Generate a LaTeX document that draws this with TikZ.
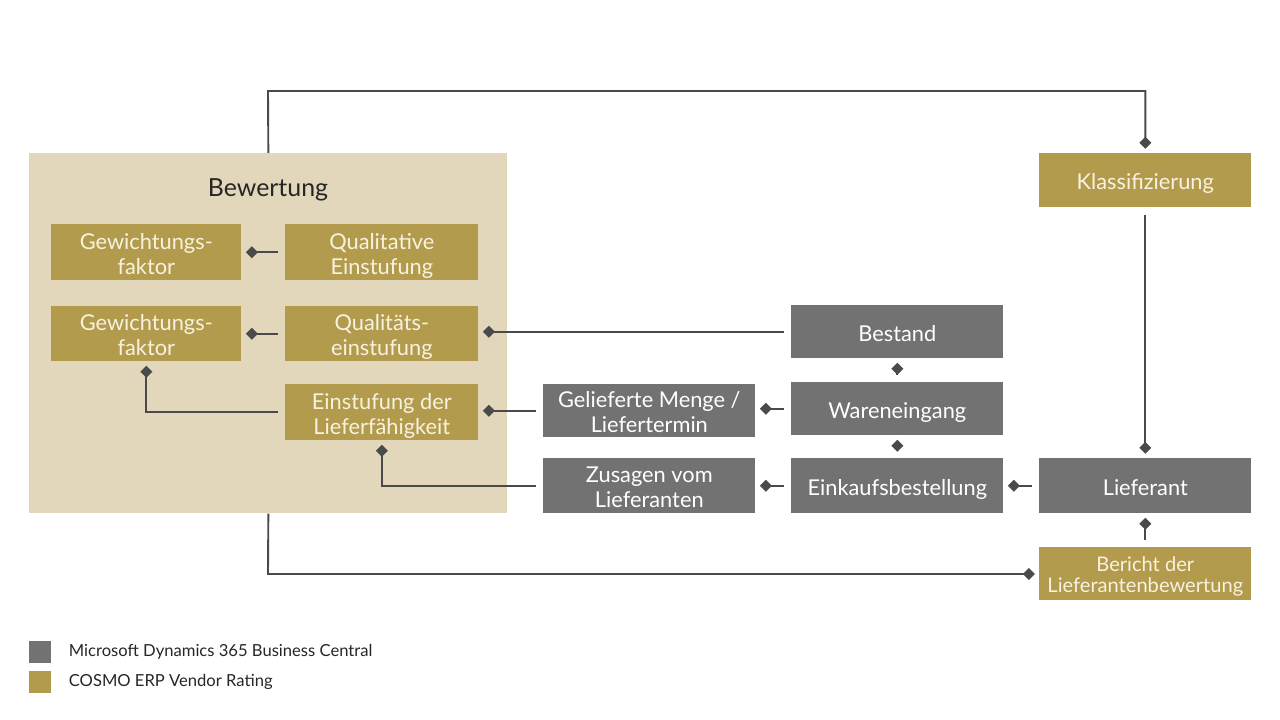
\documentclass[tikz,border=0pt]{standalone}
\usepackage{fontspec}
\setmainfont{Lato}
\usetikzlibrary{arrows.meta,positioning}
\definecolor{bcgold}{HTML}{B39B4E}
\definecolor{bcgray}{HTML}{727272}
\definecolor{bcbeige}{HTML}{E2D7BA}
\definecolor{bcline}{HTML}{4A4A4A}
\definecolor{bctext}{HTML}{F8F2DE}
\definecolor{bcdark}{HTML}{262626}
\tikzset{
  goldbox/.style={fill=bcgold,text=bctext,align=center,inner sep=0pt,anchor=north west,
    minimum height=1.4cm,font=\fontsize{15.5}{17.7}\selectfont},
  graybox/.style={fill=bcgray,text=white,align=center,inner sep=0pt,anchor=north west,
    minimum width=5.3cm,minimum height=1.35cm,font=\fontsize{15.5}{17.7}\selectfont},
  oneline/.style={text height=16.5pt,text depth=3pt},
  twoline/.style={text height=34pt,text depth=3pt},
  link/.style={draw=bcline,line width=1.35pt,-{Diamond[length=8.5pt,width=8.5pt]},
    shorten >=3pt,shorten <=5pt},
  legbox/.style={minimum size=0.55cm,inner sep=0pt,anchor=north west},
  legtext/.style={text=bcdark,font=\fontsize{11.8}{14}\selectfont,anchor=west,inner sep=0pt},
}

\begin{document}
\begin{tikzpicture}[x=0.025cm,y=-0.025cm]
\useasboundingbox (0,0) rectangle (1280,720);

% Bewertung
\node[fill=bcbeige,minimum width=11.95cm,minimum height=9cm,inner sep=0pt,anchor=north west] (bew) at (29,153) {};
\node[text=bcdark,font=\fontsize{17.7}{20}\selectfont] (bewtitle) at (268,190) {Bewertung};
\node[goldbox,twoline,minimum width=4.75cm] (gew1) at (51,224) {Gewichtungs-\\faktor};
\node[goldbox,twoline,minimum width=4.825cm] (qual) at (285,224) {Qualitative\\Einstufung};
\node[goldbox,twoline,minimum width=4.75cm,minimum height=1.375cm] (gew2) at (51,306) {Gewichtungs-\\faktor};
\node[goldbox,twoline,minimum width=4.825cm,minimum height=1.375cm] (qst) at (285,306) {Qualitäts-\\einstufung};
\node[goldbox,twoline,minimum width=4.825cm] (lfk) at (285,384) {Einstufung der\\Lieferfähigkeit};

% Business Central
\node[graybox,oneline,minimum height=1.325cm] (bestand) at (791,305) {Bestand};
\node[graybox,twoline,minimum height=1.325cm] (gelief) at (543,384) {Gelieferte Menge /\\Liefertermin};
\node[graybox,oneline,minimum height=1.325cm] (waren) at (791,382) {Wareneingang};
\node[graybox,twoline,minimum height=1.375cm] (zusagen) at (543,458) {Zusagen vom\\Lieferanten};
\node[graybox,oneline,minimum height=1.375cm] (einkauf) at (791,458) {Einkaufsbestellung};
\node[graybox,oneline,minimum height=1.375cm] (liefer) at (1039,458) {Lieferant};

% Vendor Rating rechts
\node[goldbox,oneline,minimum width=5.3cm,minimum height=1.35cm] (klass) at (1039,153) {Klassifizierung};
\node[goldbox,minimum width=5.3cm,minimum height=1.325cm,font=\fontsize{14.3}{14.5}\selectfont,
  text height=29pt,text depth=3pt] (bericht) at (1039,547) {Bericht der\\Lieferantenbewertung};

\coordinate (topturn) at (268,91);
\coordinate (botturn) at (268,574);

% Verbindungen
\draw[link] (qual.west) -- (gew1.east);
\draw[link] (qst.west) -- (gew2.east);
\draw[link] (bestand.west) -- (bestand.west -| qst.east);
\draw[link] (gelief.west) -- (gelief.west -| lfk.east);
\draw[link] (waren.west) -- (waren.west -| gelief.east);
\draw[link] (waren.north) -- (bestand.south);
\draw[link] (einkauf.north) -- (waren.south);
\draw[link] (einkauf.west) -- (zusagen.east);
\draw[link] (liefer.west) -- (einkauf.east);
\draw[link] (zusagen.west) -| (lfk.south);
\draw[link] (lfk.west) -| (gew2.south);
\draw[link,shorten <=0pt] (bew.north) -- (topturn) -| (klass.north);
\draw[link] (klass.south) -- (liefer.north);
\draw[link] (bericht.north) -- (liefer.south);
\draw[link,shorten <=0pt] (bew.south) -- (botturn) -- (botturn -| bericht.west);

% Legende
\node[legbox,fill=bcgray] (leggray) at (29,641) {};
\node[legtext,right=0.425cm of leggray] (leggraytext) {Microsoft Dynamics 365 Business Central};
\node[legbox,fill=bcgold] (leggold) at (29,671) {};
\node[legtext,right=0.425cm of leggold] (leggoldtext) {COSMO ERP Vendor Rating};

\end{tikzpicture}
\end{document}
